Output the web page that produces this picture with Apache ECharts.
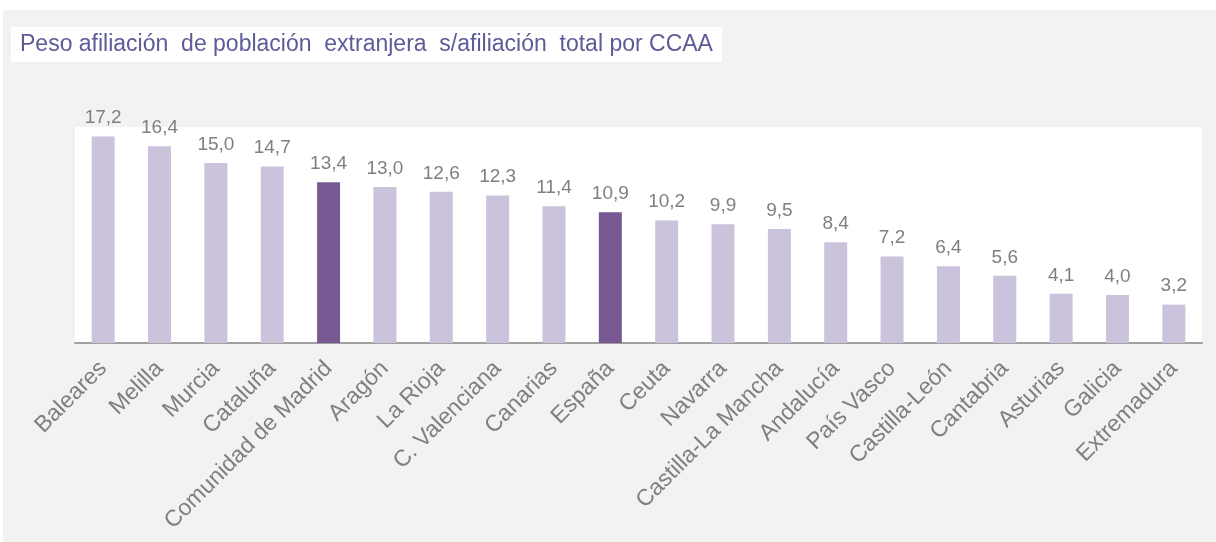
<!DOCTYPE html>
<html lang="es">
<head>
  <meta charset="utf-8">
  <title>Peso afiliación de población extranjera</title>
  <script src="https://cdn.jsdelivr.net/npm/echarts@6/dist/echarts.min.js"></script>
  <style>
    html, body { margin: 0; padding: 0; background: #fff; }
    #main { width: 1216px; height: 542px; }
  </style>
</head>
<body>
  <div id="main"></div>
  <script type="text/javascript">
// datos
var regiones = ['Baleares', 'Melilla', 'Murcia', 'Cataluña', 'Comunidad de Madrid', 'Aragón', 'La Rioja',
  'C. Valenciana', 'Canarias', 'España', 'Ceuta', 'Navarra', 'Castilla-La Mancha', 'Andalucía',
  'País Vasco', 'Castilla-León', 'Cantabria', 'Asturias', 'Galicia', 'Extremadura'];
var pesos = [17.2, 16.4, 15.0, 14.7, 13.4, 13.0, 12.6, 12.3, 11.4, 10.9, 10.2, 9.9, 9.5, 8.4, 7.2, 6.4, 5.6, 4.1, 4.0, 3.2];
var destacadas = ['Comunidad de Madrid', 'España'];

var colorClaro = '#cbc2dc', colorOscuro = '#775893';

var datos = [];
for (var i = 0; i < regiones.length; i++) {
  datos.push({
    value: pesos[i],
    itemStyle: { color: destacadas.indexOf(regiones[i]) >= 0 ? colorOscuro : colorClaro }
  });
}

var myChart = echarts.init(document.getElementById('main'));

var option = {
  animation: false,
  textStyle: { fontFamily: 'Liberation Sans, Arial, sans-serif' },
  graphic: [
    { type: 'rect', z: -10, shape: { x: 3, y: 10, width: 1213, height: 532 }, style: { fill: '#f2f2f2' } }
  ],
  title: {
    text: 'Peso afiliación  de población  extranjera  s/afiliación  total por CCAA',
    left: 11,
    top: 27,
    padding: [6, 9, 6, 9],
    backgroundColor: '#fff',
    textStyle: { fontSize: 23, lineHeight: 23, fontWeight: 'normal', color: '#5d5b97' }
  },
  grid: {
    left: 75, right: 14, top: 127, bottom: 199,
    show: true, backgroundColor: '#fff', borderWidth: 0
  },
  xAxis: {
    type: 'category',
    data: regiones,
    axisLine: { lineStyle: { color: '#a0a0a0', width: 2 } },
    axisTick: { show: false },
    axisLabel: { interval: 0, rotate: 45, margin: 22, fontSize: 23, color: '#7f7f7f' }
  },
  yAxis: {
    type: 'value',
    min: 0, max: 18,
    show: false,
    splitLine: { show: false }
  },
  series: [{
    type: 'bar',
    data: datos,
    barWidth: 23,
    label: {
      show: true,
      position: 'top',
      distance: 9,
      fontSize: 19,
      color: '#7f7f7f',
      formatter: function (p) { return p.value.toFixed(1).replace('.', ','); }
    }
  }]
};

myChart.setOption(option);
  </script>
</body>
</html>
